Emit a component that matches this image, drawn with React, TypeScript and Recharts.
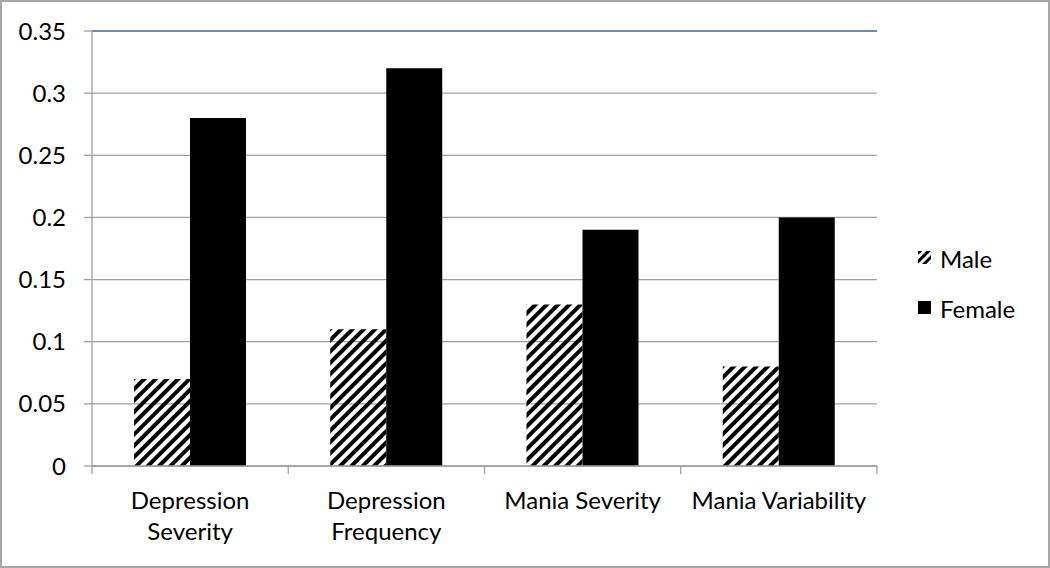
import { Bar, BarChart, CartesianGrid, Legend, ReferenceLine, XAxis, YAxis } from "recharts";

const categories = ["Depression Severity", "Depression Frequency", "Mania Severity", "Mania Variability"];
// how Excel wrapped each category label
const categoryLines = [["Depression", "Severity"], ["Depression", "Frequency"], ["Mania Severity"], ["Mania Variability"]];
const maleValues = [0.07, 0.11, 0.13, 0.08];
const femaleValues = [0.28, 0.32, 0.19, 0.2];
const yTicks = [0, 0.05, 0.1, 0.15, 0.2, 0.25, 0.3, 0.35];

const GRAY = "#a0a0a0";
const BLUE = "#4f81bd";
const FONT = "Lato, 'Open Sans', sans-serif";
const FONT_SIZE = 24;

const data = categories.map((name, i) => ({
  name,
  male: maleValues[i],
  female: femaleValues[i],
}));

// category label plus the boundary tick marks Excel puts between groups
function CategoryTick(props: any) {
  const { x, y, payload, index, visibleTicksCount } = props;
  const half = payload?.offset ?? 0;
  const lines = categoryLines[index] ?? [String(payload.value)];
  return (
    <g>
      <line x1={x - half} x2={x - half} y1={y} y2={y + 8} stroke={GRAY} strokeWidth={1.3} />
      {index === visibleTicksCount - 1 && (
        <line x1={x + half} x2={x + half} y1={y} y2={y + 8} stroke={GRAY} strokeWidth={1.3} />
      )}
      <text x={x} y={y + 43} textAnchor="middle" fill="#000" fontSize={FONT_SIZE} fontFamily={FONT}>
        {lines.map((l, i) => (
          <tspan key={l} x={x} dy={i === 0 ? 0 : 31}>
            {l}
          </tspan>
        ))}
      </text>
    </g>
  );
}

function LegendBox() {
  const rows = [
    { label: "Male", fill: "url(#legendHatch)" },
    { label: "Female", fill: "#000" },
  ];
  return (
    <div style={{ fontFamily: FONT, fontSize: FONT_SIZE, color: "#000" }}>
      {rows.map((r) => (
        <div key={r.label} style={{ display: "flex", alignItems: "center", height: 50 }}>
          <svg width={14} height={14} style={{ marginRight: 8 }}>
            <defs>
              <pattern id="legendHatch" patternUnits="userSpaceOnUse" width={6} height={6} patternTransform="rotate(45)">
                <rect x={0} y={0} width={3} height={6} fill="#000" />
              </pattern>
            </defs>
            <rect x={0} y={0} width={13} height={13} fill={r.fill} />
          </svg>
          <span>{r.label}</span>
        </div>
      ))}
    </div>
  );
}

export default function App() {
  return (
    <div style={{ position: "absolute", left: 0, top: 0, width: 1050, height: 568, background: "#fff" }}>
      <BarChart
        width={1050}
        height={568}
        data={data}
        margin={{ top: 31, right: 173, left: 0, bottom: 0 }}
        barCategoryGap="21.4%"
        barGap={0}
      >
        <defs>
          <pattern id="maleHatch" patternUnits="userSpaceOnUse" width={8} height={8} patternTransform="rotate(45)">
            <rect x={0} y={0} width={4} height={8} fill="#000" />
          </pattern>
        </defs>
        <CartesianGrid vertical={false} stroke={GRAY} strokeWidth={1.3} />
        <XAxis
          dataKey="name"
          height={102}
          tick={<CategoryTick />}
          tickLine={false}
          tickSize={0}
          tickMargin={0}
          interval={0}
          axisLine={{ stroke: GRAY, strokeWidth: 1.3 }}
        />
        <YAxis
          domain={[0, 0.35]}
          ticks={yTicks}
          width={92}
          tickSize={8}
          tickMargin={18}
          tickLine={{ stroke: GRAY, strokeWidth: 1.3 }}
          axisLine={{ stroke: GRAY, strokeWidth: 1.3 }}
          tick={{ fill: "#000", fontSize: FONT_SIZE, fontFamily: FONT }}
          tickFormatter={(v) => String(v)}
        />
        <YAxis
          yAxisId="frame"
          orientation="right"
          width={0}
          domain={[0, 0.35]}
          tick={false}
          tickLine={false}
          axisLine={{ stroke: BLUE, strokeWidth: 1.5 }}
        />
        <ReferenceLine y={0.35} stroke={BLUE} strokeWidth={1.5} />
        <Legend
          layout="vertical"
          align="center"
          verticalAlign="middle"
          content={<LegendBox />}
          wrapperStyle={{ left: 918, top: 233, width: 130 }}
        />
        <Bar dataKey="male" name="Male" fill="url(#maleHatch)" isAnimationActive={false} />
        <Bar dataKey="female" name="Female" fill="#000" isAnimationActive={false} />
      </BarChart>
      <div
        style={{
          position: "absolute",
          inset: 0,
          border: "2px solid #a6a6a6",
          pointerEvents: "none",
        }}
      />
    </div>
  );
}
